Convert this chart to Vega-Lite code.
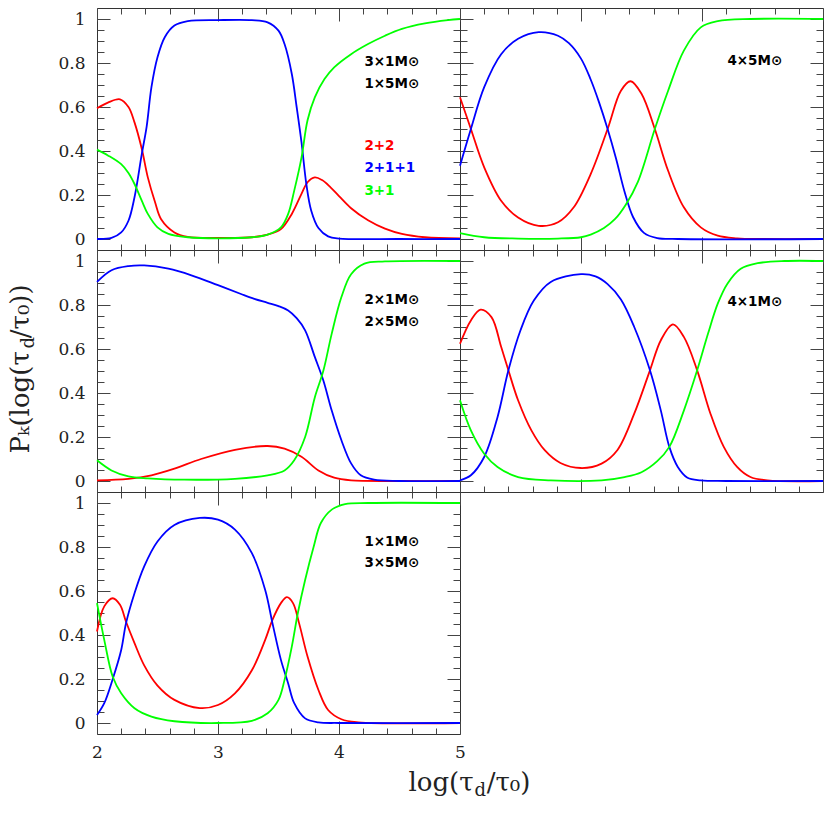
{
"$schema": "https://vega.github.io/schema/vega-lite/v6.json",
"padding": {"left": 6, "top": 7, "right": 5, "bottom": 5},
"columns": 2,
"spacing": 0,
"bounds": "flush",
"datasets": {
"p1": [
{"k":"2+2","x":2.00,"p":0.594},{"k":"2+2","x":2.09,"p":0.62},{"k":"2+2","x":2.19,"p":0.635},{"k":"2+2","x":2.26,"p":0.60},{"k":"2+2","x":2.31,"p":0.53},{"k":"2+2","x":2.37,"p":0.41},{"k":"2+2","x":2.42,"p":0.28},{"k":"2+2","x":2.48,"p":0.167},{"k":"2+2","x":2.53,"p":0.09},{"k":"2+2","x":2.64,"p":0.03},{"k":"2+2","x":2.75,"p":0.01},{"k":"2+2","x":3.00,"p":0.005},{"k":"2+2","x":3.28,"p":0.008},{"k":"2+2","x":3.41,"p":0.02},{"k":"2+2","x":3.52,"p":0.045},{"k":"2+2","x":3.61,"p":0.114},{"k":"2+2","x":3.69,"p":0.205},{"k":"2+2","x":3.74,"p":0.258},{"k":"2+2","x":3.80,"p":0.28},{"k":"2+2","x":3.86,"p":0.268},{"k":"2+2","x":3.93,"p":0.235},{"k":"2+2","x":4.00,"p":0.195},{"k":"2+2","x":4.10,"p":0.14},{"k":"2+2","x":4.24,"p":0.085},{"k":"2+2","x":4.38,"p":0.047},{"k":"2+2","x":4.52,"p":0.023},{"k":"2+2","x":4.71,"p":0.008},{"k":"2+2","x":5.00,"p":0.003},
{"k":"2+1+1","x":2.00,"p":0.0},{"k":"2+1+1","x":2.12,"p":0.005},{"k":"2+1+1","x":2.20,"p":0.03},{"k":"2+1+1","x":2.26,"p":0.083},{"k":"2+1+1","x":2.31,"p":0.19},{"k":"2+1+1","x":2.37,"p":0.386},{"k":"2+1+1","x":2.41,"p":0.51},{"k":"2+1+1","x":2.45,"p":0.69},{"k":"2+1+1","x":2.50,"p":0.826},{"k":"2+1+1","x":2.56,"p":0.917},{"k":"2+1+1","x":2.64,"p":0.97},{"k":"2+1+1","x":2.75,"p":0.99},{"k":"2+1+1","x":3.00,"p":0.995},{"k":"2+1+1","x":3.28,"p":0.995},{"k":"2+1+1","x":3.41,"p":0.985},{"k":"2+1+1","x":3.50,"p":0.947},{"k":"2+1+1","x":3.55,"p":0.886},{"k":"2+1+1","x":3.61,"p":0.75},{"k":"2+1+1","x":3.65,"p":0.60},{"k":"2+1+1","x":3.69,"p":0.44},{"k":"2+1+1","x":3.73,"p":0.25},{"k":"2+1+1","x":3.77,"p":0.13},{"k":"2+1+1","x":3.83,"p":0.05},{"k":"2+1+1","x":3.91,"p":0.012},{"k":"2+1+1","x":4.00,"p":0.002},{"k":"2+1+1","x":4.50,"p":0.0},{"k":"2+1+1","x":5.00,"p":0.0},
{"k":"3+1","x":2.00,"p":0.406},{"k":"3+1","x":2.09,"p":0.38},{"k":"3+1","x":2.20,"p":0.34},{"k":"3+1","x":2.26,"p":0.30},{"k":"3+1","x":2.31,"p":0.25},{"k":"3+1","x":2.37,"p":0.174},{"k":"3+1","x":2.42,"p":0.114},{"k":"3+1","x":2.50,"p":0.053},{"k":"3+1","x":2.59,"p":0.023},{"k":"3+1","x":2.75,"p":0.008},{"k":"3+1","x":3.00,"p":0.003},{"k":"3+1","x":3.28,"p":0.008},{"k":"3+1","x":3.41,"p":0.02},{"k":"3+1","x":3.52,"p":0.053},{"k":"3+1","x":3.58,"p":0.114},{"k":"3+1","x":3.63,"p":0.22},{"k":"3+1","x":3.69,"p":0.37},{"k":"3+1","x":3.74,"p":0.54},{"k":"3+1","x":3.80,"p":0.644},{"k":"3+1","x":3.88,"p":0.727},{"k":"3+1","x":3.96,"p":0.78},{"k":"3+1","x":4.10,"p":0.84},{"k":"3+1","x":4.24,"p":0.886},{"k":"3+1","x":4.38,"p":0.924},{"k":"3+1","x":4.52,"p":0.955},{"k":"3+1","x":4.71,"p":0.98},{"k":"3+1","x":4.90,"p":0.995},{"k":"3+1","x":5.00,"p":1.0}
],
"p2": [
{"k":"2+2","x":2.00,"p":0.644},{"k":"2+2","x":2.09,"p":0.5},{"k":"2+2","x":2.20,"p":0.326},{"k":"2+2","x":2.34,"p":0.174},{"k":"2+2","x":2.48,"p":0.098},{"k":"2+2","x":2.65,"p":0.06},{"k":"2+2","x":2.81,"p":0.076},{"k":"2+2","x":2.94,"p":0.144},{"k":"2+2","x":3.08,"p":0.295},{"k":"2+2","x":3.22,"p":0.5},{"k":"2+2","x":3.33,"p":0.674},{"k":"2+2","x":3.41,"p":0.717},{"k":"2+2","x":3.50,"p":0.66},{"k":"2+2","x":3.61,"p":0.5},{"k":"2+2","x":3.72,"p":0.31},{"k":"2+2","x":3.85,"p":0.144},{"k":"2+2","x":3.99,"p":0.053},{"k":"2+2","x":4.13,"p":0.015},{"k":"2+2","x":4.29,"p":0.003},{"k":"2+2","x":4.50,"p":0.0},{"k":"2+2","x":5.00,"p":0.0},
{"k":"2+1+1","x":2.00,"p":0.333},{"k":"2+1+1","x":2.09,"p":0.5},{"k":"2+1+1","x":2.20,"p":0.69},{"k":"2+1+1","x":2.34,"p":0.84},{"k":"2+1+1","x":2.48,"p":0.91},{"k":"2+1+1","x":2.65,"p":0.94},{"k":"2+1+1","x":2.81,"p":0.924},{"k":"2+1+1","x":2.90,"p":0.89},{"k":"2+1+1","x":3.00,"p":0.82},{"k":"2+1+1","x":3.08,"p":0.725},{"k":"2+1+1","x":3.15,"p":0.62},{"k":"2+1+1","x":3.22,"p":0.5},{"k":"2+1+1","x":3.29,"p":0.365},{"k":"2+1+1","x":3.36,"p":0.215},{"k":"2+1+1","x":3.43,"p":0.1},{"k":"2+1+1","x":3.52,"p":0.028},{"k":"2+1+1","x":3.63,"p":0.004},{"k":"2+1+1","x":3.80,"p":0.0},{"k":"2+1+1","x":5.00,"p":0.0},
{"k":"3+1","x":2.00,"p":0.027},{"k":"3+1","x":2.20,"p":0.008},{"k":"3+1","x":2.48,"p":0.002},{"k":"3+1","x":2.81,"p":0.002},{"k":"3+1","x":3.00,"p":0.008},{"k":"3+1","x":3.08,"p":0.02},{"k":"3+1","x":3.19,"p":0.05},{"k":"3+1","x":3.28,"p":0.09},{"k":"3+1","x":3.37,"p":0.156},{"k":"3+1","x":3.47,"p":0.26},{"k":"3+1","x":3.61,"p":0.5},{"k":"3+1","x":3.72,"p":0.674},{"k":"3+1","x":3.85,"p":0.856},{"k":"3+1","x":3.99,"p":0.962},{"k":"3+1","x":4.13,"p":0.99},{"k":"3+1","x":4.40,"p":1.0},{"k":"3+1","x":5.00,"p":1.0}
],
"p3": [
{"k":"2+2","x":2.00,"p":0.003},{"k":"2+2","x":2.26,"p":0.01},{"k":"2+2","x":2.45,"p":0.026},{"k":"2+2","x":2.64,"p":0.056},{"k":"2+2","x":2.86,"p":0.10},{"k":"2+2","x":3.14,"p":0.142},{"k":"2+2","x":3.41,"p":0.159},{"k":"2+2","x":3.55,"p":0.147},{"k":"2+2","x":3.69,"p":0.11},{"k":"2+2","x":3.83,"p":0.048},{"k":"2+2","x":3.96,"p":0.015},{"k":"2+2","x":4.10,"p":0.003},{"k":"2+2","x":4.50,"p":0.0},{"k":"2+2","x":5.00,"p":0.0},
{"k":"2+1+1","x":2.00,"p":0.905},{"k":"2+1+1","x":2.12,"p":0.958},{"k":"2+1+1","x":2.26,"p":0.977},{"k":"2+1+1","x":2.39,"p":0.98},{"k":"2+1+1","x":2.59,"p":0.965},{"k":"2+1+1","x":2.78,"p":0.935},{"k":"2+1+1","x":3.00,"p":0.89},{"k":"2+1+1","x":3.19,"p":0.85},{"k":"2+1+1","x":3.30,"p":0.828},{"k":"2+1+1","x":3.41,"p":0.81},{"k":"2+1+1","x":3.50,"p":0.795},{"k":"2+1+1","x":3.58,"p":0.775},{"k":"2+1+1","x":3.65,"p":0.74},{"k":"2+1+1","x":3.72,"p":0.685},{"k":"2+1+1","x":3.80,"p":0.564},{"k":"2+1+1","x":3.87,"p":0.458},{"k":"2+1+1","x":3.94,"p":0.32},{"k":"2+1+1","x":4.02,"p":0.185},{"k":"2+1+1","x":4.10,"p":0.08},{"k":"2+1+1","x":4.18,"p":0.026},{"k":"2+1+1","x":4.29,"p":0.006},{"k":"2+1+1","x":4.50,"p":0.0},{"k":"2+1+1","x":5.00,"p":0.0},
{"k":"3+1","x":2.00,"p":0.094},{"k":"3+1","x":2.12,"p":0.048},{"k":"3+1","x":2.26,"p":0.021},{"k":"3+1","x":2.42,"p":0.012},{"k":"3+1","x":2.72,"p":0.006},{"k":"3+1","x":3.14,"p":0.01},{"k":"3+1","x":3.41,"p":0.026},{"k":"3+1","x":3.55,"p":0.048},{"k":"3+1","x":3.63,"p":0.094},{"k":"3+1","x":3.72,"p":0.2},{"k":"3+1","x":3.80,"p":0.38},{"k":"3+1","x":3.87,"p":0.50},{"k":"3+1","x":3.94,"p":0.67},{"k":"3+1","x":4.02,"p":0.836},{"k":"3+1","x":4.10,"p":0.94},{"k":"3+1","x":4.21,"p":0.988},{"k":"3+1","x":4.38,"p":0.998},{"k":"3+1","x":5.00,"p":1.0}
],
"p4": [
{"k":"2+2","x":2.00,"p":0.624},{"k":"2+2","x":2.09,"p":0.73},{"k":"2+2","x":2.17,"p":0.779},{"k":"2+2","x":2.26,"p":0.745},{"k":"2+2","x":2.34,"p":0.61},{"k":"2+2","x":2.40,"p":0.503},{"k":"2+2","x":2.48,"p":0.367},{"k":"2+2","x":2.59,"p":0.23},{"k":"2+2","x":2.70,"p":0.14},{"k":"2+2","x":2.83,"p":0.082},{"k":"2+2","x":3.00,"p":0.059},{"k":"2+2","x":3.17,"p":0.079},{"k":"2+2","x":3.30,"p":0.14},{"k":"2+2","x":3.44,"p":0.306},{"k":"2+2","x":3.57,"p":0.503},{"k":"2+2","x":3.66,"p":0.64},{"k":"2+2","x":3.76,"p":0.712},{"k":"2+2","x":3.85,"p":0.655},{"k":"2+2","x":3.96,"p":0.503},{"k":"2+2","x":4.07,"p":0.306},{"k":"2+2","x":4.18,"p":0.155},{"k":"2+2","x":4.29,"p":0.064},{"k":"2+2","x":4.40,"p":0.018},{"k":"2+2","x":4.54,"p":0.003},{"k":"2+2","x":5.00,"p":0.0},
{"k":"2+1+1","x":2.00,"p":0.003},{"k":"2+1+1","x":2.09,"p":0.026},{"k":"2+1+1","x":2.20,"p":0.109},{"k":"2+1+1","x":2.31,"p":0.29},{"k":"2+1+1","x":2.40,"p":0.503},{"k":"2+1+1","x":2.50,"p":0.685},{"k":"2+1+1","x":2.61,"p":0.82},{"k":"2+1+1","x":2.75,"p":0.905},{"k":"2+1+1","x":3.00,"p":0.94},{"k":"2+1+1","x":3.12,"p":0.93},{"k":"2+1+1","x":3.22,"p":0.895},{"k":"2+1+1","x":3.33,"p":0.825},{"k":"2+1+1","x":3.44,"p":0.70},{"k":"2+1+1","x":3.57,"p":0.503},{"k":"2+1+1","x":3.66,"p":0.32},{"k":"2+1+1","x":3.73,"p":0.155},{"k":"2+1+1","x":3.80,"p":0.064},{"k":"2+1+1","x":3.88,"p":0.015},{"k":"2+1+1","x":3.99,"p":0.003},{"k":"2+1+1","x":4.20,"p":0.0},{"k":"2+1+1","x":5.00,"p":0.0},
{"k":"3+1","x":2.00,"p":0.367},{"k":"3+1","x":2.09,"p":0.23},{"k":"3+1","x":2.20,"p":0.124},{"k":"3+1","x":2.31,"p":0.064},{"k":"3+1","x":2.48,"p":0.018},{"k":"3+1","x":2.75,"p":0.003},{"k":"3+1","x":3.17,"p":0.003},{"k":"3+1","x":3.36,"p":0.018},{"k":"3+1","x":3.50,"p":0.04},{"k":"3+1","x":3.63,"p":0.09},{"k":"3+1","x":3.73,"p":0.155},{"k":"3+1","x":3.85,"p":0.32},{"k":"3+1","x":3.96,"p":0.503},{"k":"3+1","x":4.05,"p":0.67},{"k":"3+1","x":4.13,"p":0.806},{"k":"3+1","x":4.21,"p":0.897},{"k":"3+1","x":4.32,"p":0.965},{"k":"3+1","x":4.46,"p":0.99},{"k":"3+1","x":4.68,"p":1.0},{"k":"3+1","x":5.00,"p":1.0}
],
"p5": [
{"k":"2+2","x":2.00,"p":0.416},{"k":"2+2","x":2.06,"p":0.53},{"k":"2+2","x":2.13,"p":0.567},{"k":"2+2","x":2.19,"p":0.537},{"k":"2+2","x":2.24,"p":0.46},{"k":"2+2","x":2.31,"p":0.363},{"k":"2+2","x":2.39,"p":0.262},{"k":"2+2","x":2.50,"p":0.17},{"k":"2+2","x":2.64,"p":0.105},{"k":"2+2","x":2.85,"p":0.068},{"k":"2+2","x":3.00,"p":0.082},{"k":"2+2","x":3.14,"p":0.135},{"k":"2+2","x":3.28,"p":0.24},{"k":"2+2","x":3.39,"p":0.378},{"k":"2+2","x":3.45,"p":0.469},{"k":"2+2","x":3.52,"p":0.545},{"k":"2+2","x":3.57,"p":0.572},{"k":"2+2","x":3.62,"p":0.545},{"k":"2+2","x":3.67,"p":0.454},{"k":"2+2","x":3.74,"p":0.302},{"k":"2+2","x":3.83,"p":0.15},{"k":"2+2","x":3.91,"p":0.059},{"k":"2+2","x":4.02,"p":0.017},{"k":"2+2","x":4.16,"p":0.003},{"k":"2+2","x":5.00,"p":0.0},
{"k":"2+1+1","x":2.00,"p":0.036},{"k":"2+1+1","x":2.06,"p":0.09},{"k":"2+1+1","x":2.13,"p":0.2},{"k":"2+1+1","x":2.20,"p":0.332},{"k":"2+1+1","x":2.24,"p":0.454},{"k":"2+1+1","x":2.31,"p":0.59},{"k":"2+1+1","x":2.39,"p":0.712},{"k":"2+1+1","x":2.50,"p":0.825},{"k":"2+1+1","x":2.64,"p":0.90},{"k":"2+1+1","x":2.85,"p":0.932},{"k":"2+1+1","x":3.00,"p":0.924},{"k":"2+1+1","x":3.14,"p":0.879},{"k":"2+1+1","x":3.28,"p":0.772},{"k":"2+1+1","x":3.39,"p":0.605},{"k":"2+1+1","x":3.45,"p":0.454},{"k":"2+1+1","x":3.52,"p":0.287},{"k":"2+1+1","x":3.58,"p":0.18},{"k":"2+1+1","x":3.63,"p":0.09},{"k":"2+1+1","x":3.72,"p":0.021},{"k":"2+1+1","x":3.83,"p":0.003},{"k":"2+1+1","x":4.00,"p":0.0},{"k":"2+1+1","x":5.00,"p":0.0},
{"k":"3+1","x":2.00,"p":0.545},{"k":"3+1","x":2.06,"p":0.378},{"k":"3+1","x":2.13,"p":0.21},{"k":"3+1","x":2.20,"p":0.135},{"k":"3+1","x":2.31,"p":0.067},{"k":"3+1","x":2.45,"p":0.029},{"k":"3+1","x":2.64,"p":0.008},{"k":"3+1","x":3.00,"p":0.0},{"k":"3+1","x":3.28,"p":0.01},{"k":"3+1","x":3.41,"p":0.044},{"k":"3+1","x":3.50,"p":0.105},{"k":"3+1","x":3.55,"p":0.196},{"k":"3+1","x":3.61,"p":0.347},{"k":"3+1","x":3.66,"p":0.5},{"k":"3+1","x":3.72,"p":0.65},{"k":"3+1","x":3.79,"p":0.80},{"k":"3+1","x":3.85,"p":0.909},{"k":"3+1","x":3.94,"p":0.97},{"k":"3+1","x":4.05,"p":0.995},{"k":"3+1","x":4.24,"p":1.0},{"k":"3+1","x":5.00,"p":1.0}
],
"m1": [{"x":4.21,"y":0.806,"t":"3×1M⊙"},{"x":4.21,"y":0.706,"t":"1×5M⊙"}],
"leg1": [{"x":4.21,"y":0.424,"k":"2+2"},{"x":4.21,"y":0.321,"k":"2+1+1"},{"x":4.21,"y":0.22,"k":"3+1"}],
"m2": [{"x":4.21,"y":0.81,"t":"4×5M⊙"}],
"m3": [{"x":4.21,"y":0.821,"t":"2×1M⊙"},{"x":4.21,"y":0.723,"t":"2×5M⊙"}],
"m4": [{"x":4.21,"y":0.815,"t":"4×1M⊙"}],
"m5": [{"x":4.21,"y":0.824,"t":"1×1M⊙"},{"x":4.21,"y":0.727,"t":"3×5M⊙"}]
},
"concat": [
{
"width": 363, "height": 242,
"layer": [
{"mark": {"type": "rule", "strokeDash": [8, 5], "color": "#666", "strokeWidth": 1},
 "encoding": {"x": {"datum": 2, "type": "quantitative", "axis": null}, "x2": {"datum": 5}, "y": {"datum": 0.5, "type": "quantitative", "axis": {"orient": "right", "values": [0,0.05,0.1,0.15,0.2,0.25,0.3,0.35,0.4,0.45,0.5,0.55,0.6,0.65,0.7,0.75,0.8,0.85,0.9,0.95,1], "labels": false, "title": null, "tickSize": {"condition": {"test": "abs(datum.value*5-round(datum.value*5))<0.001", "value": -13}, "value": -7}}}}},
{"data": {"name": "p1"}, "mark": {"type": "line", "strokeWidth": 1.8, "interpolate": "catmull-rom"},
 "encoding": {
  "x": {"field": "x", "type": "quantitative", "scale": {"domain": [2, 5], "nice": false, "zero": false}, "axis": {"orient": "bottom", "values": [2,2.2,2.4,2.6,2.8,3,3.2,3.4,3.6,3.8,4,4.2,4.4,4.6,4.8,5], "labels": false, "title": null, "tickSize": {"condition": {"test": "abs(datum.value-round(datum.value))<0.001", "value": -13}, "value": -6}}},
  "y": {"field": "p", "type": "quantitative", "scale": {"domain": [-0.05, 1.05], "nice": false, "zero": false}, "axis": {"orient": "left", "values": [0,0.05,0.1,0.15,0.2,0.25,0.3,0.35,0.4,0.45,0.5,0.55,0.6,0.65,0.7,0.75,0.8,0.85,0.9,0.95,1], "labelExpr": "abs(datum.value*5-round(datum.value*5))<0.001 ? format(datum.value,'~g') : ''", "labelPadding": 25, "title": null, "tickSize": {"condition": {"test": "abs(datum.value*5-round(datum.value*5))<0.001", "value": -13}, "value": -7}}},
  "color": {"field": "k", "type": "nominal", "scale": {"domain": ["2+2", "2+1+1", "3+1"], "range": ["#ff0000", "#0000ff", "#00ff00"]}, "legend": null}}},
{"data": {"name": "m1"}, "mark": {"type": "text", "align": "left", "baseline": "middle", "font": "DejaVu Sans", "fontWeight": "bold", "fontSize": 13.5, "color": "#000"},
 "encoding": {"x": {"field": "x", "type": "quantitative", "axis": {"orient": "top", "values": [2,2.2,2.4,2.6,2.8,3,3.2,3.4,3.6,3.8,4,4.2,4.4,4.6,4.8,5], "labels": false, "title": null, "tickSize": {"condition": {"test": "abs(datum.value-round(datum.value))<0.001", "value": -13}, "value": -6}}}, "y": {"field": "y", "type": "quantitative", "axis": null}, "text": {"field": "t"}}},
{"data": {"name": "leg1"}, "mark": {"type": "text", "align": "left", "baseline": "middle", "font": "DejaVu Sans", "fontWeight": "bold", "fontSize": 13.5},
 "encoding": {"x": {"field": "x", "type": "quantitative", "axis": null}, "y": {"field": "y", "type": "quantitative", "axis": null}, "text": {"field": "k"}, "color": {"field": "k", "type": "nominal", "scale": {"domain": ["2+2", "2+1+1", "3+1"], "range": ["#ff0000", "#0000ff", "#00ff00"]}, "legend": null}}}
],
"resolve": {"axis": {"x": "independent", "y": "independent"}}
},
{
"width": 363, "height": 242,
"layer": [
{"mark": {"type": "rule", "strokeDash": [8, 5], "color": "#666", "strokeWidth": 1},
 "encoding": {"x": {"datum": 2, "type": "quantitative", "axis": null}, "x2": {"datum": 5}, "y": {"datum": 0.5, "type": "quantitative", "axis": {"orient": "right", "values": [0,0.05,0.1,0.15,0.2,0.25,0.3,0.35,0.4,0.45,0.5,0.55,0.6,0.65,0.7,0.75,0.8,0.85,0.9,0.95,1], "labels": false, "title": null, "tickSize": {"condition": {"test": "abs(datum.value*5-round(datum.value*5))<0.001", "value": -13}, "value": -7}}}}},
{"data": {"name": "p2"}, "mark": {"type": "line", "strokeWidth": 1.8, "interpolate": "catmull-rom"},
 "encoding": {
  "x": {"field": "x", "type": "quantitative", "scale": {"domain": [2, 5], "nice": false, "zero": false}, "axis": {"orient": "bottom", "values": [2,2.2,2.4,2.6,2.8,3,3.2,3.4,3.6,3.8,4,4.2,4.4,4.6,4.8,5], "labels": false, "title": null, "tickSize": {"condition": {"test": "abs(datum.value-round(datum.value))<0.001", "value": -13}, "value": -6}}},
  "y": {"field": "p", "type": "quantitative", "scale": {"domain": [-0.05, 1.05], "nice": false, "zero": false}, "axis": {"orient": "left", "values": [0,0.05,0.1,0.15,0.2,0.25,0.3,0.35,0.4,0.45,0.5,0.55,0.6,0.65,0.7,0.75,0.8,0.85,0.9,0.95,1], "labels": false, "title": null, "tickSize": {"condition": {"test": "abs(datum.value*5-round(datum.value*5))<0.001", "value": -13}, "value": -7}}},
  "color": {"field": "k", "type": "nominal", "scale": {"domain": ["2+2", "2+1+1", "3+1"], "range": ["#ff0000", "#0000ff", "#00ff00"]}, "legend": null}}},
{"data": {"name": "m2"}, "mark": {"type": "text", "align": "left", "baseline": "middle", "font": "DejaVu Sans", "fontWeight": "bold", "fontSize": 13.5, "color": "#000"},
 "encoding": {"x": {"field": "x", "type": "quantitative", "axis": {"orient": "top", "values": [2,2.2,2.4,2.6,2.8,3,3.2,3.4,3.6,3.8,4,4.2,4.4,4.6,4.8,5], "labels": false, "title": null, "tickSize": {"condition": {"test": "abs(datum.value-round(datum.value))<0.001", "value": -13}, "value": -6}}}, "y": {"field": "y", "type": "quantitative", "axis": null}, "text": {"field": "t"}}}
],
"resolve": {"axis": {"x": "independent", "y": "independent"}}
},
{
"width": 363, "height": 242,
"layer": [
{"mark": {"type": "rule", "strokeDash": [8, 5], "color": "#666", "strokeWidth": 1},
 "encoding": {"x": {"datum": 2, "type": "quantitative", "axis": null}, "x2": {"datum": 5}, "y": {"datum": 0.5, "type": "quantitative", "axis": {"orient": "right", "values": [0,0.05,0.1,0.15,0.2,0.25,0.3,0.35,0.4,0.45,0.5,0.55,0.6,0.65,0.7,0.75,0.8,0.85,0.9,0.95,1], "labels": false, "title": null, "tickSize": {"condition": {"test": "abs(datum.value*5-round(datum.value*5))<0.001", "value": -13}, "value": -7}}}}},
{"data": {"name": "p3"}, "mark": {"type": "line", "strokeWidth": 1.8, "interpolate": "catmull-rom"},
 "encoding": {
  "x": {"field": "x", "type": "quantitative", "scale": {"domain": [2, 5], "nice": false, "zero": false}, "axis": {"orient": "bottom", "values": [2,2.2,2.4,2.6,2.8,3,3.2,3.4,3.6,3.8,4,4.2,4.4,4.6,4.8,5], "labels": false, "title": null, "tickSize": {"condition": {"test": "abs(datum.value-round(datum.value))<0.001", "value": -13}, "value": -6}}},
  "y": {"field": "p", "type": "quantitative", "scale": {"domain": [-0.05, 1.05], "nice": false, "zero": false}, "axis": {"orient": "left", "values": [0,0.05,0.1,0.15,0.2,0.25,0.3,0.35,0.4,0.45,0.5,0.55,0.6,0.65,0.7,0.75,0.8,0.85,0.9,0.95,1], "labelExpr": "abs(datum.value*5-round(datum.value*5))<0.001 ? format(datum.value,'~g') : ''", "labelPadding": 25, "title": "Pₖ(log(τ\u2002/τ₀))", "titleAngle": 270, "titleAlign": "left", "titleBaseline": "alphabetic", "titleX": -69, "titleY": 203, "tickSize": {"condition": {"test": "abs(datum.value*5-round(datum.value*5))<0.001", "value": -13}, "value": -7}}},
  "color": {"field": "k", "type": "nominal", "scale": {"domain": ["2+2", "2+1+1", "3+1"], "range": ["#ff0000", "#0000ff", "#00ff00"]}, "legend": null}}},
{"data": {"name": "m3"}, "mark": {"type": "text", "align": "left", "baseline": "middle", "font": "DejaVu Sans", "fontWeight": "bold", "fontSize": 13.5, "color": "#000"},
 "encoding": {"x": {"field": "x", "type": "quantitative", "axis": {"orient": "top", "values": [2,2.2,2.4,2.6,2.8,3,3.2,3.4,3.6,3.8,4,4.2,4.4,4.6,4.8,5], "labels": false, "title": null, "tickSize": {"condition": {"test": "abs(datum.value-round(datum.value))<0.001", "value": -13}, "value": -6}}}, "y": {"field": "y", "type": "quantitative", "axis": {"orient": "left", "ticks": false, "labels": false, "title": "d", "titleFontSize": 18, "titleAngle": 270, "titleAlign": "left", "titleBaseline": "alphabetic", "titleX": -64, "titleY": 98}}, "text": {"field": "t"}}}
],
"resolve": {"axis": {"x": "independent", "y": "independent"}}
},
{
"width": 363, "height": 242,
"layer": [
{"mark": {"type": "rule", "strokeDash": [8, 5], "color": "#666", "strokeWidth": 1},
 "encoding": {"x": {"datum": 2, "type": "quantitative", "axis": null}, "x2": {"datum": 5}, "y": {"datum": 0.5, "type": "quantitative", "axis": {"orient": "right", "values": [0,0.05,0.1,0.15,0.2,0.25,0.3,0.35,0.4,0.45,0.5,0.55,0.6,0.65,0.7,0.75,0.8,0.85,0.9,0.95,1], "labels": false, "title": null, "tickSize": {"condition": {"test": "abs(datum.value*5-round(datum.value*5))<0.001", "value": -13}, "value": -7}}}}},
{"data": {"name": "p4"}, "mark": {"type": "line", "strokeWidth": 1.8, "interpolate": "catmull-rom"},
 "encoding": {
  "x": {"field": "x", "type": "quantitative", "scale": {"domain": [2, 5], "nice": false, "zero": false}, "axis": {"orient": "bottom", "values": [2,2.2,2.4,2.6,2.8,3,3.2,3.4,3.6,3.8,4,4.2,4.4,4.6,4.8,5], "labels": false, "title": null, "tickSize": {"condition": {"test": "abs(datum.value-round(datum.value))<0.001", "value": -13}, "value": -6}}},
  "y": {"field": "p", "type": "quantitative", "scale": {"domain": [-0.05, 1.05], "nice": false, "zero": false}, "axis": {"orient": "left", "values": [0,0.05,0.1,0.15,0.2,0.25,0.3,0.35,0.4,0.45,0.5,0.55,0.6,0.65,0.7,0.75,0.8,0.85,0.9,0.95,1], "labels": false, "title": null, "tickSize": {"condition": {"test": "abs(datum.value*5-round(datum.value*5))<0.001", "value": -13}, "value": -7}}},
  "color": {"field": "k", "type": "nominal", "scale": {"domain": ["2+2", "2+1+1", "3+1"], "range": ["#ff0000", "#0000ff", "#00ff00"]}, "legend": null}}},
{"data": {"name": "m4"}, "mark": {"type": "text", "align": "left", "baseline": "middle", "font": "DejaVu Sans", "fontWeight": "bold", "fontSize": 13.5, "color": "#000"},
 "encoding": {"x": {"field": "x", "type": "quantitative", "axis": {"orient": "top", "values": [2,2.2,2.4,2.6,2.8,3,3.2,3.4,3.6,3.8,4,4.2,4.4,4.6,4.8,5], "labels": false, "title": null, "tickSize": {"condition": {"test": "abs(datum.value-round(datum.value))<0.001", "value": -13}, "value": -6}}}, "y": {"field": "y", "type": "quantitative", "axis": null}, "text": {"field": "t"}}}
],
"resolve": {"axis": {"x": "independent", "y": "independent"}}
},
{
"width": 363, "height": 242,
"layer": [
{"mark": {"type": "rule", "strokeDash": [8, 5], "color": "#666", "strokeWidth": 1},
 "encoding": {"x": {"datum": 2, "type": "quantitative", "axis": {"orient": "bottom", "ticks": false, "labels": false, "title": "d", "titleFontSize": 18, "titleAlign": "left", "titleBaseline": "alphabetic", "titleX": 377, "titleY": 61}}, "x2": {"datum": 5}, "y": {"datum": 0.5, "type": "quantitative", "axis": {"orient": "right", "values": [0,0.05,0.1,0.15,0.2,0.25,0.3,0.35,0.4,0.45,0.5,0.55,0.6,0.65,0.7,0.75,0.8,0.85,0.9,0.95,1], "labels": false, "title": null, "tickSize": {"condition": {"test": "abs(datum.value*5-round(datum.value*5))<0.001", "value": -13}, "value": -7}}}}},
{"data": {"name": "p5"}, "mark": {"type": "line", "strokeWidth": 1.8, "interpolate": "catmull-rom"},
 "encoding": {
  "x": {"field": "x", "type": "quantitative", "scale": {"domain": [2, 5], "nice": false, "zero": false}, "axis": {"orient": "bottom", "values": [2,2.2,2.4,2.6,2.8,3,3.2,3.4,3.6,3.8,4,4.2,4.4,4.6,4.8,5], "labelExpr": "abs(datum.value-round(datum.value))<0.001 ? format(datum.value,'d') : ''", "labelPadding": 23, "title": "log(τ\u2002/τ₀)", "titleAlign": "left", "titleBaseline": "alphabetic", "titleX": 311, "titleY": 56, "tickSize": {"condition": {"test": "abs(datum.value-round(datum.value))<0.001", "value": -13}, "value": -6}}},
  "y": {"field": "p", "type": "quantitative", "scale": {"domain": [-0.05, 1.05], "nice": false, "zero": false}, "axis": {"orient": "left", "values": [0,0.05,0.1,0.15,0.2,0.25,0.3,0.35,0.4,0.45,0.5,0.55,0.6,0.65,0.7,0.75,0.8,0.85,0.9,0.95,1], "labelExpr": "abs(datum.value*5-round(datum.value*5))<0.001 ? format(datum.value,'~g') : ''", "labelPadding": 25, "title": null, "tickSize": {"condition": {"test": "abs(datum.value*5-round(datum.value*5))<0.001", "value": -13}, "value": -7}}},
  "color": {"field": "k", "type": "nominal", "scale": {"domain": ["2+2", "2+1+1", "3+1"], "range": ["#ff0000", "#0000ff", "#00ff00"]}, "legend": null}}},
{"data": {"name": "m5"}, "mark": {"type": "text", "align": "left", "baseline": "middle", "font": "DejaVu Sans", "fontWeight": "bold", "fontSize": 13.5, "color": "#000"},
 "encoding": {"x": {"field": "x", "type": "quantitative", "axis": {"orient": "top", "values": [2,2.2,2.4,2.6,2.8,3,3.2,3.4,3.6,3.8,4,4.2,4.4,4.6,4.8,5], "labels": false, "title": null, "tickSize": {"condition": {"test": "abs(datum.value-round(datum.value))<0.001", "value": -13}, "value": -6}}}, "y": {"field": "y", "type": "quantitative", "axis": null}, "text": {"field": "t"}}}
],
"resolve": {"axis": {"x": "independent", "y": "independent"}}
}
],
"config": {
"view": {"stroke": "#333", "strokeWidth": 1},
"axis": {"domain": false, "grid": false, "tickColor": "#444", "tickWidth": 1, "labelOverlap": false, "labelFlush": false, "labelFont": "DejaVu Serif", "labelFontSize": 17, "labelColor": "#222", "titleFont": "DejaVu Serif", "titleFontSize": 26, "titleFontWeight": "normal", "titleColor": "#222"}
}
}
